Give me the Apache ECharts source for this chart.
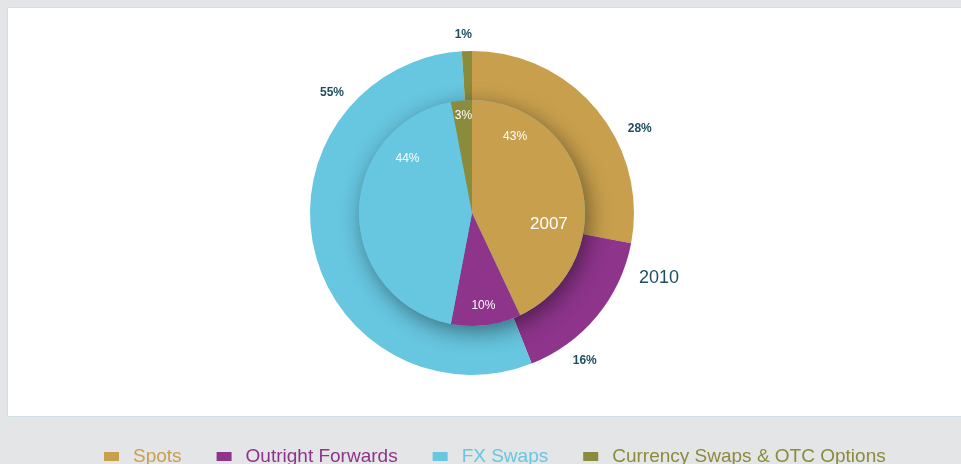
<!DOCTYPE html>
<html>
<head>
<meta charset="utf-8">
<script src="https://cdn.jsdelivr.net/npm/echarts@6/dist/echarts.min.js"></script>
<style>
  html, body { margin: 0; padding: 0; background: #e4e5e6; }
  #chart { width: 961px; height: 464px; }
</style>
</head>
<body>
<div id="chart"></div>
<script>
// categories and shares (%)
const categories = ['Spots', 'Outright Forwards', 'FX Swaps', 'Currency Swaps & OTC Options']
const values2010 = [28, 16, 55, 1]
const values2007 = [43, 10, 44, 3]
const colors = ['#c8a04d', '#8e348b', '#67c6e0', '#8a8b3c']

// label nudges from the default slice position
const outerOffsets = [[103, -31], [48, 94], [-58, -139], [-6, -94]]
const innerOffsets = [[-15, -63], [4, 34], [-5, -54], [-3, -38]]

const chart = echarts.init(document.getElementById('chart'))

const center = [472, 213]

chart.setOption({
  animation: false,
  backgroundColor: '#e4e5e6',
  color: colors,
  graphic: [
    {
      type: 'rect',
      z: -10,
      shape: { x: 7.5, y: 7.5, width: 960, height: 409 },
      style: { fill: '#ffffff', stroke: '#cfe1e7', lineWidth: 1 }
    },
    {
      type: 'text',
      z: 100,
      left: 530,
      top: 216,
      style: { text: '2007', fill: '#ffffff', font: '500 17px "Liberation Sans", Arial, sans-serif' }
    },
    {
      type: 'text',
      z: 100,
      left: 639,
      top: 269,
      style: { text: '2010', fill: '#1d4f5f', font: '18px "Liberation Sans", Arial, sans-serif' }
    }
  ],
  legend: {
    data: categories.map((name, i) => ({
      name: name,
      textStyle: { color: colors[i] }
    })),
    left: 104,
    top: 447,
    padding: 0,
    icon: 'rect',
    itemWidth: 15,
    itemHeight: 9,
    itemGap: 35,
    textStyle: {
      fontSize: 19,
      fontFamily: '"Liberation Sans", Arial, sans-serif',
      padding: [0, 0, 0, 9]
    }
  },
  series: [
    {
      name: '2010',
      type: 'pie',
      center: center,
      radius: [0, 162],
      silent: true,
      avoidLabelOverlap: false,
      z: 1,
      data: categories.map((name, i) => ({ name: name, value: values2010[i] })),
      label: {
        show: true,
        position: 'inside',
        formatter: '{c}%',
        color: '#1d4f5f',
        fontSize: 12,
        fontWeight: 'bold',
        fontFamily: '"Liberation Sans", Arial, sans-serif'
      },
      labelLine: { show: false },
      labelLayout: function (params) {
        const o = outerOffsets[params.dataIndex]
        return { dx: o[0], dy: o[1] }
      }
    },
    {
      // shadow disk under the 2007 pie
      name: 'shadow',
      type: 'pie',
      center: center,
      radius: [0, 113],
      silent: true,
      z: 2,
      data: [{ name: 'shadow', value: 1 }],
      label: { show: false },
      labelLine: { show: false },
      itemStyle: {
        color: '#67c6e0',
        shadowBlur: 22,
        shadowColor: 'rgba(0, 0, 0, 0.45)',
        shadowOffsetX: 4,
        shadowOffsetY: 6
      }
    },
    {
      name: '2007',
      type: 'pie',
      center: center,
      radius: [0, 113],
      silent: true,
      avoidLabelOverlap: false,
      z: 3,
      data: categories.map((name, i) => ({ name: name, value: values2007[i] })),
      label: {
        show: true,
        position: 'inside',
        formatter: '{c}%',
        color: '#ffffff',
        fontSize: 12,
        fontFamily: '"Liberation Sans", Arial, sans-serif'
      },
      labelLine: { show: false },
      labelLayout: function (params) {
        const o = innerOffsets[params.dataIndex]
        return { dx: o[0], dy: o[1] }
      }
    }
  ]
})
</script>
</body>
</html>
